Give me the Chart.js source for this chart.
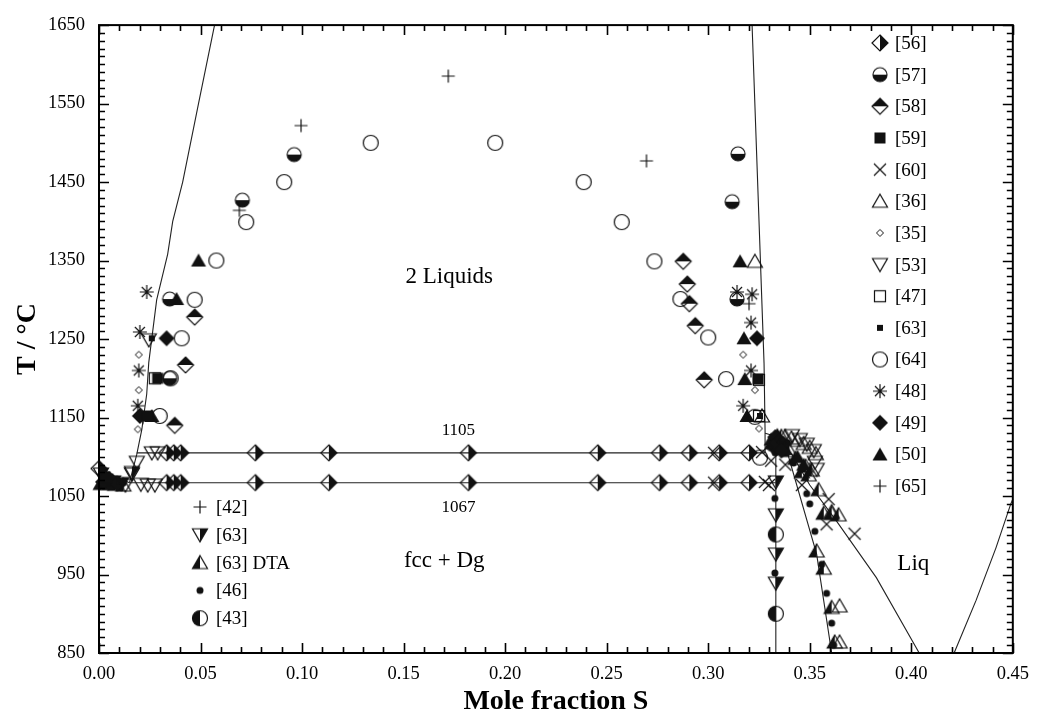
<!DOCTYPE html>
<html>
<head>
<meta charset="utf-8">
<script src="https://cdn.jsdelivr.net/npm/chart.js@4.4.0/dist/chart.umd.min.js"></script>
<style>
  html, body { margin: 0; padding: 0; background: #fff; }
  canvas { display: block; }
</style>
</head>
<body>
<canvas id="grafico" width="1039" height="719"></canvas>
<script>
// Dados experimentais [x (fração molar S), T (°C)]
const ref56 = [
  [0.0333,1105],[0.0368,1105],[0.0402,1105],[0.0770,1105],[0.1132,1105],[0.1819,1105],
  [0.2456,1105],[0.2760,1105],[0.2907,1105],[0.3054,1105],[0.3201,1105],
  [0.0333,1067],[0.0368,1067],[0.0402,1067],[0.0770,1067],[0.1132,1067],[0.1819,1067],
  [0.2456,1067],[0.2760,1067],[0.2907,1067],[0.3054,1067],[0.3201,1067],[0.0000,1085]
];
const ref57 = [[0.0706,1427],[0.0961,1485],[0.0348,1301],[0.0348,1200],[0.3147,1486],[0.3118,1425],[0.3142,1301]];
const ref58 = [[0.0471,1278],[0.0426,1217],[0.0373,1140],[0.2877,1349],[0.2897,1320],[0.2907,1295],[0.2936,1267],[0.2980,1198]];
const ref59 = [[0.0289,1200],[0.0240,1152],[0.3245,1199],[0.0030,1074]];
const ref60 = [[0.3029,1105],[0.3029,1067],[0.3265,1106],[0.3279,1068],[0.3299,1064],[0.3461,1064],[0.3593,1046],
  [0.3583,1014],[0.3721,1002],[0.3310,1095],[0.3380,1090]];
const ref36 = [[0.3230,1349],[0.3265,1152],[0.3647,864],[0.3647,910],[0.3380,1126],[0.3410,1124],[0.3440,1121],
  [0.3470,1117],[0.3500,1112],[0.3530,1104],[0.3608,1030]];
const ref35 = [[0.0196,1230],[0.0196,1185],[0.0191,1135],[0.3172,1230],[0.3230,1185],[0.3250,1136],[0.3300,1112]];
const ref53 = [[0.0186,1093],[0.0162,1078],[0.0260,1105],[0.0289,1105],[0.0206,1065],[0.0240,1064],[0.0275,1064],
  [0.0245,1249],[0.3412,1127],[0.3451,1122],[0.3485,1116],[0.3520,1108],[0.3525,1093],[0.3534,1084],[0.0130,1064]];
const ref47 = [[0.0275,1200],[0.3250,1198],[0.3250,1152]];
const ref63q = [[0.0260,1251],[0.3255,1152],[0.0050,1070],[0.0100,1068]];
const ref64 = [[0.0578,1350],[0.0471,1300],[0.0407,1251],[0.0725,1399],[0.0912,1450],[0.1338,1500],[0.1951,1500],
  [0.2387,1450],[0.2574,1399],[0.2735,1349],[0.2863,1301],[0.3000,1252],[0.3088,1199],[0.0353,1200],
  [0.0299,1152],[0.3230,1151],[0.3255,1099]];
const ref48 = [[0.0235,1310],[0.0201,1259],[0.0196,1210],[0.0191,1165],[0.3142,1310],[0.3216,1307],[0.3211,1271],
  [0.3211,1210],[0.3172,1165]];
const ref49 = [[0.0333,1251],[0.3240,1251],[0.0201,1152],[0.3330,1125],[0.3350,1120],[0.3370,1117],[0.3320,1113],
  [0.3360,1108],[0.0020,1068],[0.0050,1072],[0.0090,1066]];
const ref50 = [[0.0490,1350],[0.0382,1301],[0.3157,1349],[0.3176,1251],[0.3180,1199],[0.3191,1152],[0.0260,1152],
  [0.3310,1122],[0.3340,1128],[0.3380,1110],[0.3440,1100],[0.3470,1090],[0.0060,1066]];
const ref65 = [[0.3201,1295],[0.0216,1150]];
const ref42 = [[0.0995,1522],[0.0691,1414],[0.1720,1585],[0.2696,1477]];
const ref63t = [[0.3333,1068],[0.3333,1026],[0.3333,976],[0.3333,939],[0.0010,1078],[0.0030,1070],[0.0070,1068],
  [0.0110,1066],[0.0162,1080]];
const ref63dta = [[0.3534,980],[0.3569,1028],[0.3608,1028],[0.3642,1026],[0.3544,1058],[0.3608,908],[0.3623,864],
  [0.3461,1081],[0.3495,1077],[0.3569,958],[0.3320,1118],[0.3360,1126],[0.3400,1108],[0.3430,1098],[0.3480,1088],
  [0.3510,1083],[0.0010,1066],[0.0040,1066],[0.0080,1065],[0.0120,1064]];
const ref46 = [[0.3328,1047],[0.3328,952],[0.3500,1040],[0.3525,1005],[0.3559,963],[0.3583,926],[0.3608,888],
  [0.3618,860],[0.3485,1053],[0.3340,1115],[0.3330,1105],[0.3390,1118],[0.3420,1092],[0.3460,1085],
  [0.0020,1080],[0.0040,1077],[0.0060,1074],[0.0080,1071],[0.0100,1069],[0.0120,1067]];
const ref43 = [[0.3333,1001],[0.3333,900]];

// Linhas do diagrama calculado
const linhaLiqEsq = [[0.0150,1067],[0.0186,1103],[0.0211,1135],[0.0235,1180],[0.0245,1220],[0.0284,1300],
  [0.0338,1358],[0.0363,1400],[0.0412,1450],[0.0490,1550],[0.0569,1650]];
const linhaSolEsq = [[0.0000,1083],[0.0150,1067]];
const linha1105 = [[0.0186,1105],[0.3280,1105]];
const linha1067 = [[0.0150,1067],[0.3333,1067]];
const linhaLiqDir = [[0.3216,1650],[0.3275,1219],[0.3280,1133],[0.3280,1105]];
const linhaPico = [[0.3280,1130],[0.3320,1127],[0.3360,1120],[0.3387,1108],[0.3534,976],[0.3608,850]];
const linhaLiqDir2 = [[0.3387,1108],[0.3412,1103],[0.3500,1064],[0.3632,1018],[0.3828,946],[0.4039,850]];
const linhaDg = [[0.3333,1102],[0.3333,850]];
const linhaV = [[0.4211,850],[0.4319,917],[0.4417,984],[0.4490,1040],[0.4500,1046]];

// Eixos
const xTicks = [0, 0.05, 0.10, 0.15, 0.20, 0.25, 0.30, 0.35, 0.40, 0.45];
const yTicks = [850, 950, 1050, 1150, 1250, 1350, 1450, 1550, 1650];

const FONTE = '"Liberation Serif", "Times New Roman", serif';
Chart.defaults.font.family = FONTE;
Chart.defaults.color = '#000';

// Símbolos
function simbolo(desenho) {
  const c = document.createElement('canvas');
  c.width = 22; c.height = 22;
  const g = c.getContext('2d');
  g.translate(11, 11);
  g.lineWidth = 1.2;
  g.strokeStyle = '#111';
  g.fillStyle = '#111';
  desenho(g);
  return c;
}
function losango(g, r) {
  g.beginPath(); g.moveTo(0, -r); g.lineTo(r, 0); g.lineTo(0, r); g.lineTo(-r, 0); g.closePath();
}
function triCima(g) {
  g.beginPath(); g.moveTo(0, -7); g.lineTo(7.5, 6); g.lineTo(-7.5, 6); g.closePath();
}
function triBaixo(g) {
  g.beginPath(); g.moveTo(-7.5, -6); g.lineTo(7.5, -6); g.lineTo(0, 7); g.closePath();
}
function circulo(g, r) {
  g.beginPath(); g.arc(0, 0, r, 0, Math.PI * 2);
}

const sim = {
  s56: simbolo(g => {
    g.beginPath(); g.moveTo(0, -8); g.lineTo(8, 0); g.lineTo(0, 8); g.closePath(); g.fill();
    losango(g, 8); g.stroke();
  }),
  s57: simbolo(g => {
    g.beginPath(); g.arc(0, 0, 7, 0, Math.PI); g.closePath(); g.fill();
    circulo(g, 7); g.stroke();
  }),
  s58: simbolo(g => {
    g.beginPath(); g.moveTo(-8, 0); g.lineTo(0, -8); g.lineTo(8, 0); g.closePath(); g.fill();
    losango(g, 8); g.stroke();
  }),
  s59: simbolo(g => g.fillRect(-5.5, -5.5, 11, 11)),
  s60: simbolo(g => {
    g.beginPath(); g.moveTo(-6, -6); g.lineTo(6, 6); g.moveTo(-6, 6); g.lineTo(6, -6); g.stroke();
  }),
  s36: simbolo(g => { triCima(g); g.stroke(); }),
  s35: simbolo(g => { g.lineWidth = 1; losango(g, 3.5); g.stroke(); }),
  s53: simbolo(g => { triBaixo(g); g.stroke(); }),
  s47: simbolo(g => g.strokeRect(-5.5, -5.5, 11, 11)),
  s63q: simbolo(g => g.fillRect(-3, -3, 6, 6)),
  s64: simbolo(g => { circulo(g, 7.5); g.stroke(); }),
  s48: simbolo(g => {
    g.beginPath();
    g.moveTo(0, -7); g.lineTo(0, 7); g.moveTo(-7, 0); g.lineTo(7, 0);
    g.moveTo(-5, -5); g.lineTo(5, 5); g.moveTo(-5, 5); g.lineTo(5, -5);
    g.stroke();
  }),
  s49: simbolo(g => { losango(g, 8); g.fill(); }),
  s50: simbolo(g => { triCima(g); g.fill(); }),
  mais: simbolo(g => {
    g.beginPath(); g.moveTo(0, -6.5); g.lineTo(0, 6.5); g.moveTo(-6.5, 0); g.lineTo(6.5, 0); g.stroke();
  }),
  s63t: simbolo(g => {
    g.beginPath(); g.moveTo(0, -6); g.lineTo(7.5, -6); g.lineTo(0, 7); g.closePath(); g.fill();
    triBaixo(g); g.stroke();
  }),
  s63dta: simbolo(g => {
    g.beginPath(); g.moveTo(0, -7); g.lineTo(0, 6); g.lineTo(-7.5, 6); g.closePath(); g.fill();
    triCima(g); g.stroke();
  }),
  s46: simbolo(g => { circulo(g, 3.5); g.fill(); }),
  s43: simbolo(g => {
    g.beginPath(); g.arc(0, 0, 7.5, Math.PI / 2, Math.PI * 1.5); g.closePath(); g.fill();
    circulo(g, 7.5); g.stroke();
  })
};

function pontos(dados, estilo) {
  return {
    data: dados.map(p => ({x: p[0], y: p[1]})),
    pointStyle: estilo, pointRadius: 6, showLine: false, clip: false
  };
}
function linha(dados) {
  return {
    data: dados.map(p => ({x: p[0], y: p[1]})),
    showLine: true, pointRadius: 0, borderColor: '#222', borderWidth: 1.1,
    fill: false, clip: false, order: 10
  };
}

const legendaDir = [
  ['s56', '[56]'], ['s57', '[57]'], ['s58', '[58]'], ['s59', '[59]'], ['s60', '[60]'],
  ['s36', '[36]'], ['s35', '[35]'], ['s53', '[53]'], ['s47', '[47]'], ['s63q', '[63]'],
  ['s64', '[64]'], ['s48', '[48]'], ['s49', '[49]'], ['s50', '[50]'], ['mais', '[65]']
];
const legendaEsq = [
  ['mais', '[42]'], ['s63t', '[63]'], ['s63dta', '[63] DTA'], ['s46', '[46]'], ['s43', '[43]']
];
const rotulos = [
  ['2 Liquids', 0.1725, 1329, 23], ['fcc + Dg', 0.170, 967, 23], ['Liq', 0.401, 963, 23],
  ['1105', 0.177, 1133, 17], ['1067', 0.177, 1035, 17]
];

const decoracao = {
  id: 'decoracao',
  afterDatasetsDraw(chart) {
    const {ctx, chartArea: a, scales: {x, y}} = chart;
    ctx.save();
    ctx.strokeStyle = '#000';
    ctx.lineWidth = 2;
    ctx.strokeRect(a.left, a.top, a.right - a.left, a.bottom - a.top);

    // marcas internas dos eixos
    ctx.lineWidth = 1.6;
    ctx.beginPath();
    for (let i = 0; i <= 45; i++) {
      const px = Math.round(x.getPixelForValue(i / 100)) + 0.5;
      const L = i % 5 === 0 ? 10 : 6;
      ctx.moveTo(px, a.bottom); ctx.lineTo(px, a.bottom - L);
      ctx.moveTo(px, a.top); ctx.lineTo(px, a.top + L);
    }
    for (let t = 850; t <= 1650; t += 10) {
      const py = Math.round(y.getPixelForValue(t)) + 0.5;
      const L = (t - 850) % 100 === 0 ? 10 : 6;
      ctx.moveTo(a.left, py); ctx.lineTo(a.left + L, py);
      ctx.moveTo(a.right, py); ctx.lineTo(a.right - L, py);
    }
    ctx.stroke();

    // rótulos das regiões
    ctx.fillStyle = '#000';
    ctx.textAlign = 'center';
    ctx.textBaseline = 'middle';
    rotulos.forEach(([txt, vx, vy, tam]) => {
      ctx.font = tam + 'px ' + FONTE;
      ctx.fillText(txt, x.getPixelForValue(vx), y.getPixelForValue(vy));
    });

    // legendas
    ctx.textAlign = 'left';
    ctx.font = '19px ' + FONTE;
    legendaDir.forEach(([s, txt], i) => {
      const cy = 43 + i * 31.65;
      ctx.drawImage(sim[s], 880 - 11, cy - 11);
      ctx.fillText(txt, 895, cy + 1);
    });
    legendaEsq.forEach(([s, txt], i) => {
      const cy = 507 + i * 27.8;
      ctx.drawImage(sim[s], 200 - 11, cy - 11);
      ctx.fillText(txt, 216, cy + 1);
    });
    ctx.restore();
  }
};

new Chart(document.querySelector('#grafico'), {
  type: 'scatter',
  data: {
    datasets: [
      pontos(ref56, sim.s56), pontos(ref57, sim.s57), pontos(ref58, sim.s58), pontos(ref59, sim.s59),
      pontos(ref60, sim.s60), pontos(ref36, sim.s36), pontos(ref35, sim.s35), pontos(ref53, sim.s53),
      pontos(ref47, sim.s47), pontos(ref63q, sim.s63q), pontos(ref64, sim.s64), pontos(ref48, sim.s48),
      pontos(ref49, sim.s49), pontos(ref50, sim.s50), pontos(ref65, sim.mais), pontos(ref42, sim.mais),
      pontos(ref63t, sim.s63t), pontos(ref63dta, sim.s63dta), pontos(ref46, sim.s46), pontos(ref43, sim.s43),
      linha(linhaLiqEsq), linha(linhaSolEsq), linha(linha1105), linha(linha1067), linha(linhaLiqDir),
      linha(linhaPico), linha(linhaLiqDir2), linha(linhaDg), linha(linhaV)
    ]
  },
  options: {
    responsive: false,
    animation: false,
    events: [],
    layout: {padding: {top: 18, right: 22, left: 0, bottom: 0}},
    plugins: {legend: {display: false}, tooltip: {enabled: false}},
    scales: {
      x: {
        type: 'linear', min: 0, max: 0.45,
        afterBuildTicks: s => { s.ticks = xTicks.map(v => ({value: v})); },
        afterFit: s => { s.height = 66; },
        grid: {display: false, drawTicks: false},
        border: {display: false},
        ticks: {padding: 10, font: {size: 18.5}, callback: v => v.toFixed(2)},
        title: {display: true, text: 'Mole fraction S', font: {size: 28, weight: 'bold'}, padding: {top: 0, bottom: 0}}
      },
      y: {
        type: 'linear', min: 850, max: 1650,
        afterBuildTicks: s => { s.ticks = yTicks.map(v => ({value: v})); },
        afterFit: s => { s.width = 99; },
        grid: {display: false, drawTicks: false},
        border: {display: false},
        ticks: {padding: 14, font: {size: 18.5}, callback: v => String(v)},
        title: {display: true, text: 'T / °C', font: {size: 28, weight: 'bold'}, padding: {top: 11, bottom: 0}}
      }
    }
  },
  plugins: [decoracao]
});
</script>
</body>
</html>
